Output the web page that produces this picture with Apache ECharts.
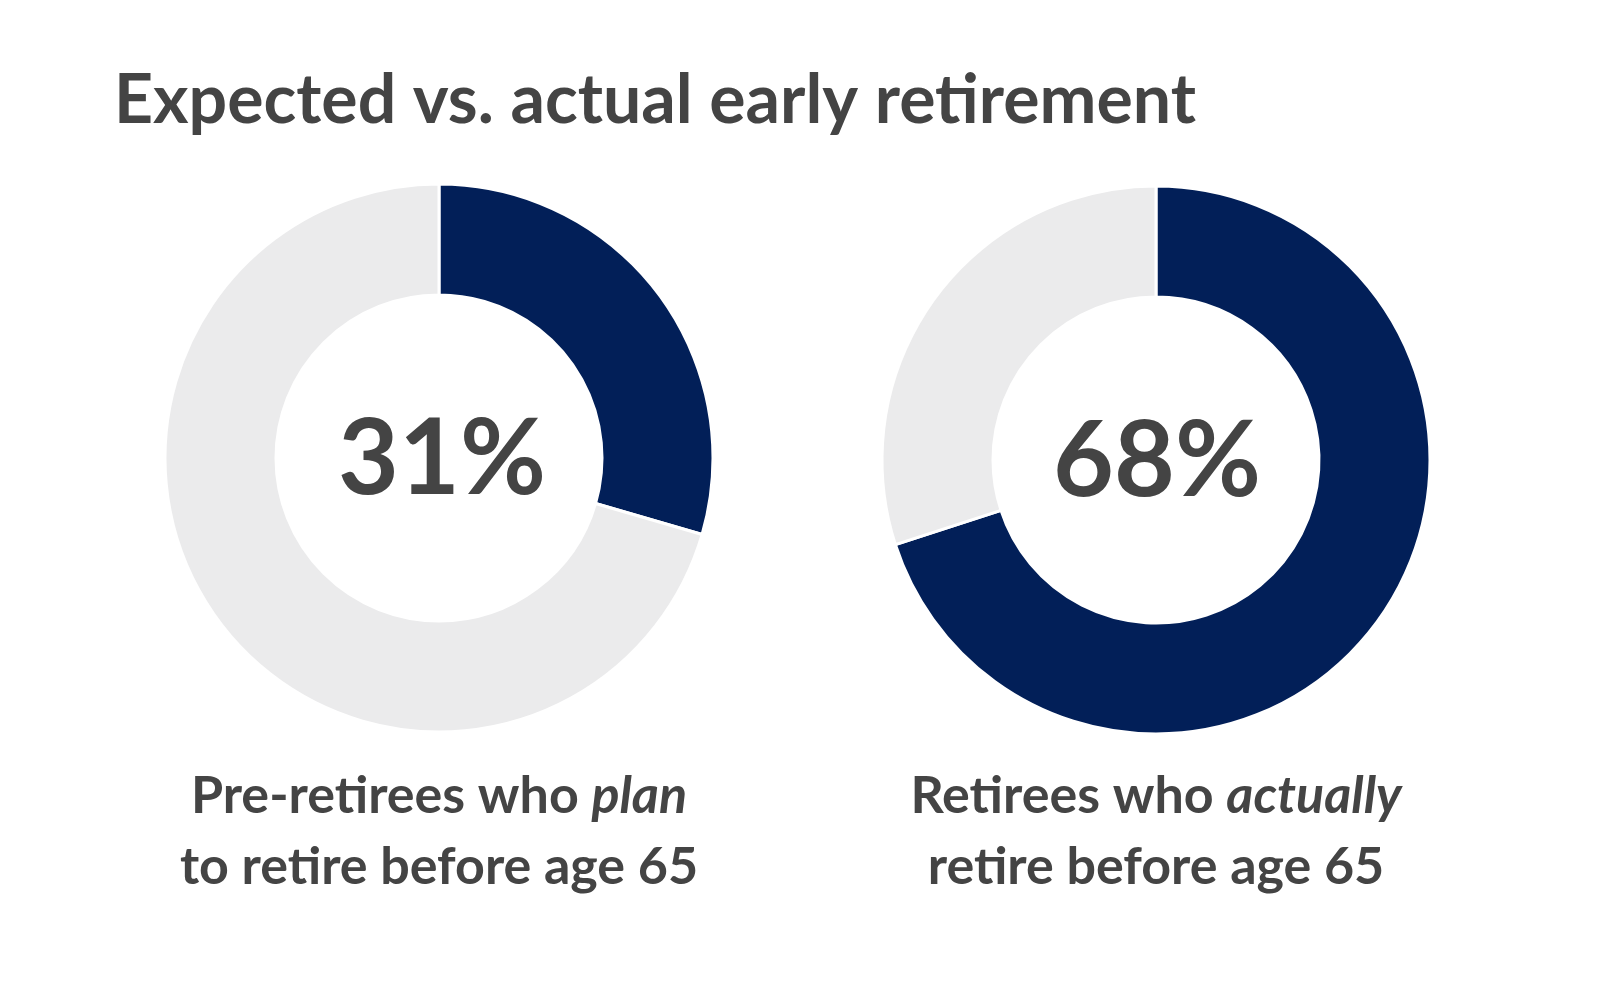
<!DOCTYPE html>
<html><head><meta charset="utf-8">
<script src="https://cdn.jsdelivr.net/npm/echarts@6/dist/echarts.min.js"></script>
<style>html,body{margin:0;padding:0;background:#fff}#c{width:1600px;height:981px}</style>
</head><body><div id="c"></div>
<script>
const titleText = 'Expected vs. actual early retirement';
const groups = ['Pre-retirees', 'Retirees'];
// arc shares as drawn in the picture (navy = before 65, gray = rest)
const yesValues = [29.5, 70];
const noValues = [70.5, 30];
const centerLabels = ['31%', '68%'];
const captionLine1 = [['Pre-retirees who ', 'plan'], ['Retirees who ', 'actually']];
const captionLine2 = ['to retire before age 65', 'retire before age 65'];

const NAVY = '#021f58', GRAY = '#ebebec', TEXT = '#444444';
const FONT = 'Lato';
const centers = [[439, 458], [1156, 460]];

const chart = echarts.init(document.getElementById('c'), null, {renderer: 'canvas'});
const series = groups.map((g, i) => ({
  type: 'pie', name: g, center: centers[i], radius: [163, 274],
  startAngle: 90, clockwise: true, silent: true, animation: false,
  label: {show: false}, labelLine: {show: false},
  itemStyle: {borderColor: '#fff', borderWidth: 3},
  data: [
    {name: 'Yes', value: yesValues[i], itemStyle: {color: NAVY}},
    {name: 'No', value: noValues[i], itemStyle: {color: GRAY}}
  ]
}));
const titles = [{
  text: titleText, left: 109, top: 62,
  textStyle: {fontFamily: FONT, fontWeight: 'bold', fontSize: 68, color: TEXT}
}];
groups.forEach((g, i) => {
  titles.push({
    text: centerLabels[i], left: centers[i][0] + (i === 1 ? -4 : -2), top: centers[i][1] - 3, textAlign: 'center', textVerticalAlign: 'middle',
    textStyle: {fontFamily: FONT, fontWeight: 'bold', fontSize: 105, color: TEXT}
  });
  titles.push({
    text: '{n|' + captionLine1[i][0] + '}{it|' + captionLine1[i][1] + '}\n{n|' + captionLine2[i] + '}',
    left: centers[i][0] - 5, top: 756, textAlign: 'center',
    textStyle: {
      fontFamily: FONT, fontWeight: 'bold', fontSize: 52, color: TEXT, lineHeight: 71,
      rich: {
        n: {fontFamily: FONT, fontWeight: 'bold', fontSize: 52, color: TEXT, lineHeight: 71},
        it: {fontFamily: FONT, fontWeight: 'bold', fontStyle: 'italic', fontSize: 52, color: TEXT, lineHeight: 71}
      }
    }
  });
});
chart.setOption({backgroundColor: '#fff', animation: false, title: titles, series: series});
</script></body></html>
